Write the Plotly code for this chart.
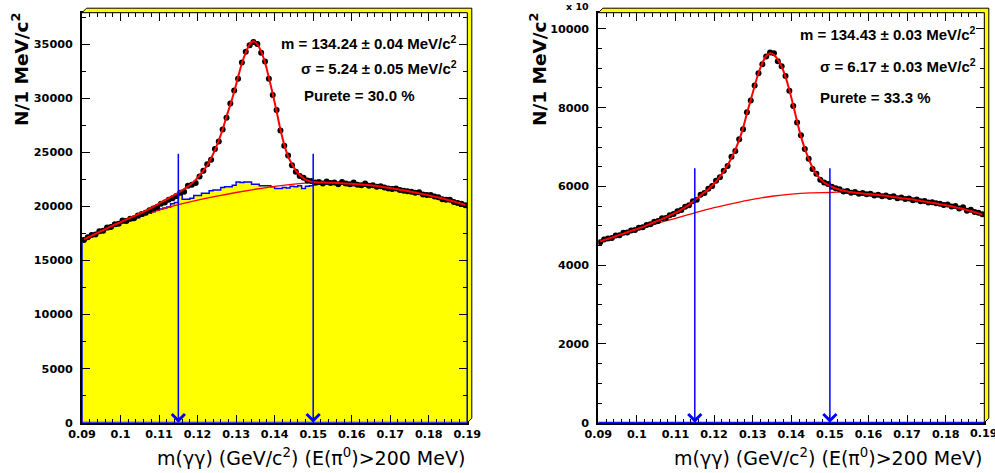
import plotly.graph_objects as go

# ---------------- data ----------------
bin_centers = [round(0.0905 + 0.001 * i, 4) for i in range(100)]
bin_edges = [round(0.090 + 0.001 * i, 4) for i in range(101)]
bg_x = [round(0.090 + 0.005 * i, 3) for i in range(21)]

# Left panel (E(pi0) > 200 MeV, first sample)
data_left = [
    16900, 17150, 17350, 17400, 17700, 17750, 18050, 18100, 18350, 18400,
    18700, 18650, 18850, 18900, 19150, 19300, 19400, 19650, 19800, 19950,
    20250, 20350, 20600, 20750, 20950, 21250, 21350, 21900, 22000, 22150,
    22750, 23300, 23900, 24300, 25300, 26000, 27100, 28200, 29500, 30700,
    31800, 33300, 34300, 34900, 35200, 35000, 34200, 33400, 31800, 30300,
    28900, 27000, 25600, 24700, 23800, 23200, 22800, 22650, 22400, 22350,
    22200, 22250, 22100, 22300, 22150, 22200, 22050, 22250, 22100, 22050,
    22200, 22000, 21950, 22100, 21900, 21950, 21800, 21850, 21750, 21650,
    21600, 21650, 21500, 21450, 21400, 21350, 21250, 21300, 21100, 21050,
    21050, 20900, 20850, 20650, 20600, 20600, 20400, 20300, 20250, 20100,
]
fit_left = [
    16950, 17120, 17290, 17460, 17630, 17800, 17970, 18140, 18310, 18460,
    18620, 18780, 18940, 19100, 19260, 19420, 19580, 19770, 19960, 20160,
    20360, 20560, 20760, 20960, 21160, 21380, 21600, 21850, 22120, 22450,
    22850, 23300, 23800, 24450, 25200, 26100, 27100, 28300, 29400, 30600,
    31950, 33200, 34200, 34950, 35250, 35000, 34300, 33300, 31900, 30400,
    28800, 27100, 25700, 24600, 23900, 23300, 22900, 22600, 22400, 22280,
    22230, 22210, 22200, 22190, 22180, 22170, 22150, 22130, 22110, 22090,
    22070, 22050, 22020, 21990, 21960, 21930, 21880, 21830, 21770, 21720,
    21660, 21600, 21540, 21480, 21410, 21340, 21270, 21200, 21130, 21060,
    20980, 20900, 20820, 20730, 20640, 20540, 20440, 20340, 20240, 20130,
]
bg_left = [16920, 17720, 18450, 19080, 19650, 20150, 20580, 20950, 21280, 21580,
           21850, 22060, 22190, 22180, 22070, 21950, 21690, 21380, 21020, 20590, 20090]
hist_left = [
    16900, 17050, 17250, 17400, 17550, 17700, 17850, 18000, 18150, 18300,
    18450, 18550, 18700, 18850, 18950, 19100, 19250, 19350, 19500, 19650,
    19750, 19850, 19950, 20250, 20350, 21150, 20650, 20650, 20750, 21000,
    21000, 21200, 21200, 21450, 21500, 21500, 21750, 21800, 21800, 21950,
    22250, 22200, 22250, 22250, 22050, 22050, 21900, 21900, 21900, 21800,
    21650, 21650, 21750, 21700, 21850, 21800, 21900, 21650, 21850, 21900,
    22000, 22050, 22100, 22050, 22100, 22050, 22000, 22050, 21950, 21950,
    21900, 21900, 21850, 21850, 21800, 21800, 21750, 21700, 21650, 21600,
    21550, 21500, 21450, 21400, 21350, 21280, 21200, 21150, 21050, 21000,
    20900, 20850, 20750, 20650, 20600, 20500, 20400, 20300, 20200, 20100,
]

# Right panel (second sample, axis in units of x 10)
data_right = [
    4580, 4650, 4680, 4690, 4750, 4760, 4820, 4830, 4880, 4890,
    4950, 4960, 5020, 5040, 5100, 5120, 5190, 5200, 5270, 5300,
    5370, 5400, 5480, 5520, 5620, 5660, 5790, 5830, 5940, 6010,
    6140, 6230, 6400, 6520, 6750, 6900, 7200, 7450, 7880, 8180,
    8560, 8870, 9100, 9300, 9400, 9380, 9180, 9050, 8800, 8430,
    8040, 7620, 7300, 6950, 6700, 6440, 6320, 6170, 6100, 6060,
    5990, 5950, 5930, 5870, 5880, 5840, 5860, 5810, 5830, 5800,
    5810, 5770, 5790, 5750, 5770, 5730, 5750, 5700, 5720, 5680,
    5690, 5650, 5670, 5620, 5630, 5590, 5600, 5570, 5560, 5530,
    5540, 5490, 5500, 5440, 5470, 5380, 5410, 5350, 5330, 5290,
]
fit_right = [
    4600, 4640, 4670, 4700, 4735, 4770, 4800, 4835, 4870, 4900,
    4935, 4970, 5010, 5050, 5090, 5130, 5170, 5215, 5260, 5310,
    5350, 5410, 5470, 5530, 5610, 5690, 5770, 5850, 5920, 6020,
    6120, 6250, 6380, 6540, 6720, 6930, 7180, 7480, 7850, 8200,
    8550, 8880, 9130, 9310, 9380, 9340, 9220, 9040, 8780, 8450,
    8060, 7650, 7270, 6960, 6700, 6480, 6310, 6190, 6100, 6040,
    5990, 5950, 5920, 5890, 5870, 5855, 5840, 5830, 5820, 5810,
    5800, 5790, 5780, 5770, 5760, 5745, 5730, 5715, 5700, 5690,
    5680, 5665, 5650, 5630, 5615, 5600, 5585, 5570, 5550, 5535,
    5515, 5495, 5470, 5450, 5425, 5400, 5375, 5345, 5315, 5285,
]
bg_right = [4590, 4750, 4900, 5050, 5190, 5330, 5460, 5570, 5670, 5750,
            5805, 5835, 5845, 5860, 5800, 5750, 5685, 5605, 5520, 5412, 5272]
hist_right = [0] * 100

# selection window arrows
arrow_x = [0.115, 0.150]
arrow_top_left = 25000
arrow_top_right = 6500

x_range = [0.09, 0.19]
x_ticks = [0.09, 0.10, 0.11, 0.12, 0.13, 0.14, 0.15, 0.16, 0.17, 0.18, 0.19]
x_ticklabels = ["0.09", "0.1", "0.11", "0.12", "0.13", "0.14", "0.15", "0.16", "0.17", "0.18", "0.19"]
y_range_left = [0, 37900]
y_range_right = [0, 10410]

texts_left = ["m = 134.24 ± 0.04 MeV/c<sup>2</sup>",
              "σ = 5.24 ± 0.05 MeV/c<sup>2</sup>",
              "Purete = 30.0 %"]
texts_right = ["m = 134.43 ± 0.03 MeV/c<sup>2</sup>",
               "σ = 6.17 ± 0.03 MeV/c<sup>2</sup>",
               "Purete = 33.3 %"]
x_title = "m(γγ) (GeV/c<sup>2</sup>) (E(π<sup>0</sup>)>200 MeV)"
y_title = "N/1 MeV/c<sup>2</sup>"

# ---------------- layout geometry (pixels) ----------------
W, H = 995, 473
def fx(p):
    return p / W
def fy(p):
    return 1 - p / H

LX = (82, 467.3)
RX = (598.3, 984.3)
YT, YB = 12.7, 422.7

BLUE = "#0000ff"
RED = "#ff0000"
YEL = "#ffff00"
FONT = "DejaVu Sans"

fig = go.Figure()

def step_xy(hist):
    xs = [bin_edges[0]] + bin_edges + [bin_edges[-1]]
    ys = [0] + hist + [hist[-1]] + [0]
    return xs, ys

# left panel
xs, ys = step_xy(hist_left)
fig.add_trace(go.Scatter(x=xs, y=ys, mode="lines", line=dict(color=BLUE, width=1.5, shape="hv"),
                         fill="tozeroy", fillcolor=YEL, xaxis="x", yaxis="y", hoverinfo="skip"))
fig.add_trace(go.Scatter(x=bg_x, y=bg_left, mode="lines", line=dict(color=RED, width=1.3, shape="spline"),
                         xaxis="x", yaxis="y"))
fig.add_trace(go.Scatter(x=bin_centers, y=data_left, mode="markers", marker=dict(color="black", size=6),
                         xaxis="x", yaxis="y"))
fig.add_trace(go.Scatter(x=bin_centers, y=fit_left, mode="lines", line=dict(color=RED, width=2, shape="spline"),
                         xaxis="x", yaxis="y"))

# right panel
xs, ys = step_xy(hist_right)
fig.add_trace(go.Scatter(x=xs, y=ys, mode="lines", line=dict(color=BLUE, width=1.5, shape="hv"),
                         xaxis="x2", yaxis="y2", hoverinfo="skip"))
fig.add_trace(go.Scatter(x=bg_x, y=bg_right, mode="lines", line=dict(color=RED, width=1.3, shape="spline"),
                         xaxis="x2", yaxis="y2"))
fig.add_trace(go.Scatter(x=bin_centers, y=data_right, mode="markers", marker=dict(color="black", size=6),
                         xaxis="x2", yaxis="y2"))
fig.add_trace(go.Scatter(x=bin_centers, y=fit_right, mode="lines", line=dict(color=RED, width=2, shape="spline"),
                         xaxis="x2", yaxis="y2"))

tickfont = dict(family=FONT, size=11.2, color="black", weight="bold")

def xax(dom, show_last=True):
    tv = x_ticks if show_last else x_ticks[:-1]
    tt = x_ticklabels if show_last else x_ticklabels[:-1]
    return dict(domain=dom, range=x_range, tickmode="array", tickvals=tv, ticktext=tt,
                ticks="inside", ticklen=8,
                tickcolor="black", tickwidth=1, showline=True, linecolor="black", linewidth=2,
                mirror="ticks", showgrid=False, zeroline=False, tickfont=tickfont,
                minor=dict(tick0=0.09, dtick=0.002, ticks="inside", ticklen=4, tickcolor="black", showgrid=False),
                automargin=False, fixedrange=True)

def yax(anchor, rng, dt, mdt):
    return dict(domain=[fy(YB), fy(YT)], range=rng, dtick=dt, tick0=0, ticks="inside", ticklen=8,
                tickcolor="black", tickwidth=1, showline=True, linecolor="black", linewidth=2,
                mirror="ticks", showgrid=False, zeroline=False, tickfont=tickfont, tickformat="d",
                anchor=anchor, ticklabelstandoff=5,
                minor=dict(dtick=mdt, ticks="inside", ticklen=4, tickcolor="black", showgrid=False),
                automargin=False, fixedrange=True)

layout = dict(
    width=W, height=H, margin=dict(l=0, r=0, t=0, b=0),
    paper_bgcolor="white", plot_bgcolor="white", showlegend=False,
    xaxis=xax([fx(LX[0]), fx(LX[1])]) | dict(anchor="y"),
    yaxis=yax("x", y_range_left, 5000, 2500),
    xaxis2=xax([fx(RX[0]), fx(RX[1])], show_last=False) | dict(anchor="y2"),
    yaxis2=yax("x2", y_range_right, 2000, 500),
)
fig.update_layout(**layout)

shapes = []
D = 4.5
for (x0, x1) in (LX, RX):
    path = (f"M{fx(x0)},{fy(YT)} L{fx(x0 + D)},{fy(YT - D)} L{fx(x1 + D)},{fy(YT - D)} "
            f"L{fx(x1 + D)},{fy(YB - D)} L{fx(x1)},{fy(YB)} L{fx(x1)},{fy(YT)} Z")
    shapes.append(dict(type="path", path=path, xref="paper", yref="paper", fillcolor=YEL,
                       line=dict(color="black", width=1), layer="above"))
# blue histogram baseline drawn over the frame
for xr, yr in (("x", "y"), ("x2", "y2")):
    shapes.append(dict(type="line", xref=xr, yref=yr, x0=x_range[0], x1=x_range[1], y0=0, y1=0,
                       line=dict(color=BLUE, width=2), layer="above"))
fig.update_layout(shapes=shapes)

ann = []
for xr, yr, top in (("x", "y", arrow_top_left), ("x2", "y2", arrow_top_right)):
    for ax_ in arrow_x:
        ann.append(dict(x=ax_, y=0, ax=ax_, ay=top, xref=xr, yref=yr, axref=xr, ayref=yr,
                        text="", showarrow=True, arrowhead=4, arrowsize=1.7, arrowwidth=1.5,
                        arrowcolor=BLUE))

# last x tick label of the right panel, cut by the page edge as in the reference
ann.append(dict(x=x_ticks[-1], y=fy(433.5), xref="x2", yref="paper", text=x_ticklabels[-1],
                showarrow=False, xanchor="center", yanchor="middle", font=tickfont))

tf = dict(family="Liberation Sans", size=15, color="black", weight="bold")
# left texts
ann.append(dict(x=fx(459), y=fy(42), xref="paper", yref="paper", text=texts_left[0], showarrow=False,
                xanchor="right", yanchor="middle", font=tf))
ann.append(dict(x=fx(459), y=fy(68), xref="paper", yref="paper", text=texts_left[1], showarrow=False,
                xanchor="right", yanchor="middle", font=tf))
ann.append(dict(x=fx(302), y=fy(96), xref="paper", yref="paper", text=texts_left[2], showarrow=False,
                xanchor="left", yanchor="middle", font=tf))
# right texts
ann.append(dict(x=fx(978), y=fy(33), xref="paper", yref="paper", text=texts_right[0], showarrow=False,
                xanchor="right", yanchor="middle", font=tf))
ann.append(dict(x=fx(978), y=fy(65), xref="paper", yref="paper", text=texts_right[1], showarrow=False,
                xanchor="right", yanchor="middle", font=tf))
ann.append(dict(x=fx(818), y=fy(97), xref="paper", yref="paper", text=texts_right[2], showarrow=False,
                xanchor="left", yanchor="middle", font=tf))
# axis titles
xtf = dict(family=FONT, size=19, color="black")
ytf = dict(family=FONT, size=18.5, color="black", weight="bold")
ann.append(dict(x=fx(467), y=fy(457), xref="paper", yref="paper", text=x_title, showarrow=False,
                xanchor="right", yanchor="middle", font=xtf))
ann.append(dict(x=fx(984), y=fy(457), xref="paper", yref="paper", text=x_title, showarrow=False,
                xanchor="right", yanchor="middle", font=xtf))
ann.append(dict(x=fx(20), y=fy(10), xref="paper", yref="paper", text=y_title, showarrow=False,
                textangle=-90, xanchor="center", yanchor="top", font=ytf))
ann.append(dict(x=fx(538), y=fy(10), xref="paper", yref="paper", text=y_title, showarrow=False,
                textangle=-90, xanchor="center", yanchor="top", font=ytf))
ann.append(dict(x=fx(577), y=fy(7), xref="paper", yref="paper", text="x 10", showarrow=False,
                xanchor="center", yanchor="middle", font=dict(family=FONT, size=9.5, color="black", weight="bold")))
fig.update_layout(annotations=ann)

fig.write_html("out.html", config={"displayModeBar": False, "staticPlot": True})

# remove the browser's default page margin so the figure sits at the top-left corner
with open("out.html", "r", encoding="utf-8") as f:
    html = f.read()
html = html.replace("<head>", "<head><style>html,body{margin:0;padding:0;overflow:hidden;}</style>", 1)
with open("out.html", "w", encoding="utf-8") as f:
    f.write(html)
